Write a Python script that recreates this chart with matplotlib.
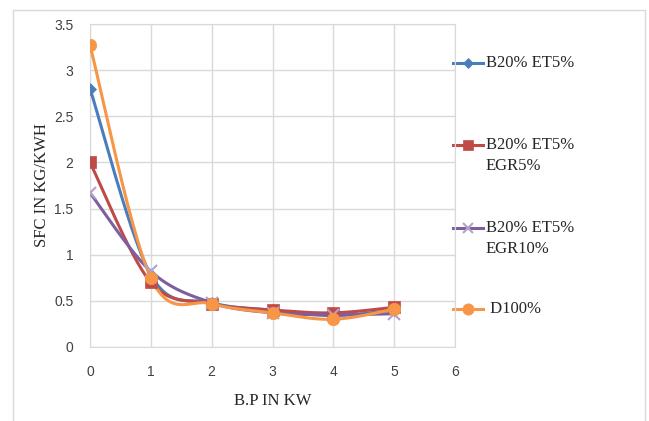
import numpy as np
import matplotlib.pyplot as plt
from matplotlib.patches import Rectangle

# brake power (kW)
bp = [0, 1, 2, 3, 4, 5]

# specific fuel consumption (kg/kWh) per blend
b20_et5 = [2.80, 0.78, 0.48, 0.40, 0.34, 0.40]
b20_et5_egr5 = [2.00, 0.70, 0.47, 0.40, 0.37, 0.43]
b20_et5_egr10 = [1.67, 0.82, 0.48, 0.37, 0.35, 0.36]
d100 = [3.27, 0.75, 0.47, 0.37, 0.30, 0.41]

labels = ["B20% ET5%", "B20% ET5%\nEGR5%", "B20% ET5%\nEGR10%", " D100%"]
colors = ["#4a7ebb", "#be4b48", "#7d5fa0", "#f79646"]
markers = ["D", "s", "x", "o"]
msizes = [6, 8, 8, 9]

serif = ["Liberation Serif", "DejaVu Serif"]
sans = ["Liberation Sans", "DejaVu Sans"]


def smooth(x, y, n=30):
    """Bezier smoothing through the points, like a spreadsheet smoothed line."""
    x = np.asarray(x, float)
    y = np.asarray(y, float)
    px = np.concatenate([[x[0]], x, [x[-1]]])
    py = np.concatenate([[y[0]], y, [y[-1]]])
    xs, ys = [], []
    t = np.linspace(0, 1, n)
    for i in range(1, len(x)):
        p0 = np.array([px[i], py[i]])
        p3 = np.array([px[i + 1], py[i + 1]])
        c1 = p0 + (np.array([px[i + 1], py[i + 1]]) - np.array([px[i - 1], py[i - 1]])) / 6
        c2 = p3 - (np.array([px[i + 2], py[i + 2]]) - np.array([px[i], py[i]])) / 6
        b = ((1 - t) ** 3)[:, None] * p0 + (3 * (1 - t) ** 2 * t)[:, None] * c1 \
            + (3 * (1 - t) * t ** 2)[:, None] * c2 + (t ** 3)[:, None] * p3
        xs.extend(b[:, 0])
        ys.extend(b[:, 1])
    return np.array(xs), np.array(ys)


fig = plt.figure(figsize=(6.49, 4.21), dpi=100)

# overlay in pixel coordinates for the frame and legend
ov = fig.add_axes([0, 0, 1, 1], zorder=0)
ov.set_xlim(0, 649)
ov.set_ylim(421, 0)
ov.axis("off")
ov.add_patch(Rectangle((13, 10), 632, 430, fill=False, ec="#d9d9d9", lw=1))

ax = fig.add_axes([90 / 649, 74 / 421, 365 / 649, 323 / 421], zorder=1)
ax.patch.set_alpha(0)

series = [b20_et5, b20_et5_egr5, b20_et5_egr10, d100]
for vals, c, m, ms in zip(series, colors, markers, msizes):
    sx, sy = smooth(bp, vals)
    ax.plot(sx, sy, color=c, lw=2.2, zorder=3)
    ax.plot(bp, vals, ls="none", marker=m, color=c, ms=ms,
            mew=1.5 if m == "x" else 0.5, zorder=4,
            mfc=c if m != "x" else "none",
            mec=c if m != "x" else "#b3a2c7")

ax.set_xlim(0, 6)
ax.set_ylim(0, 3.5)
ax.set_xticks(range(0, 7))
ax.set_yticks(np.arange(0, 3.51, 0.5))
ax.set_yticklabels(["0", "0.5", "1", "1.5", "2", "2.5", "3", "3.5"])
ax.grid(True, color="#d9d9d9", lw=1)
ax.set_axisbelow(True)
for s in ax.spines.values():
    s.set_color("#d9d9d9")
ax.tick_params(axis="y", length=0, labelsize=10, colors="#404040", pad=12)
ax.tick_params(axis="x", length=0, labelsize=10, colors="#404040", pad=13)
for lab in ax.get_xticklabels() + ax.get_yticklabels():
    lab.set_family(sans)
ax.set_xlabel("B.P IN KW", family=serif, fontsize=12, color="#262626", labelpad=10)
ax.set_ylabel("SFC IN KG/KWH", family=serif, fontsize=12, color="#262626", labelpad=3)

# legend on the right
leg_y = [63, 145, 228, 309]
for y, lab, c, m, ms in zip(leg_y, labels, colors, markers, msizes):
    ov.plot([453, 483], [y, y], color=c, lw=2.2)
    ov.plot([468], [y], ls="none", marker=m, color=c, ms=ms * 0.9,
            mew=1.5 if m == "x" else 0.5,
            mfc=c if m != "x" else "none",
            mec=c if m != "x" else "#b3a2c7")
    ov.text(486, y - 8, lab, family=serif, fontsize=12, color="#262626",
            va="top", ha="left", linespacing=1.45)

fig.savefig("out.png", dpi=100)
